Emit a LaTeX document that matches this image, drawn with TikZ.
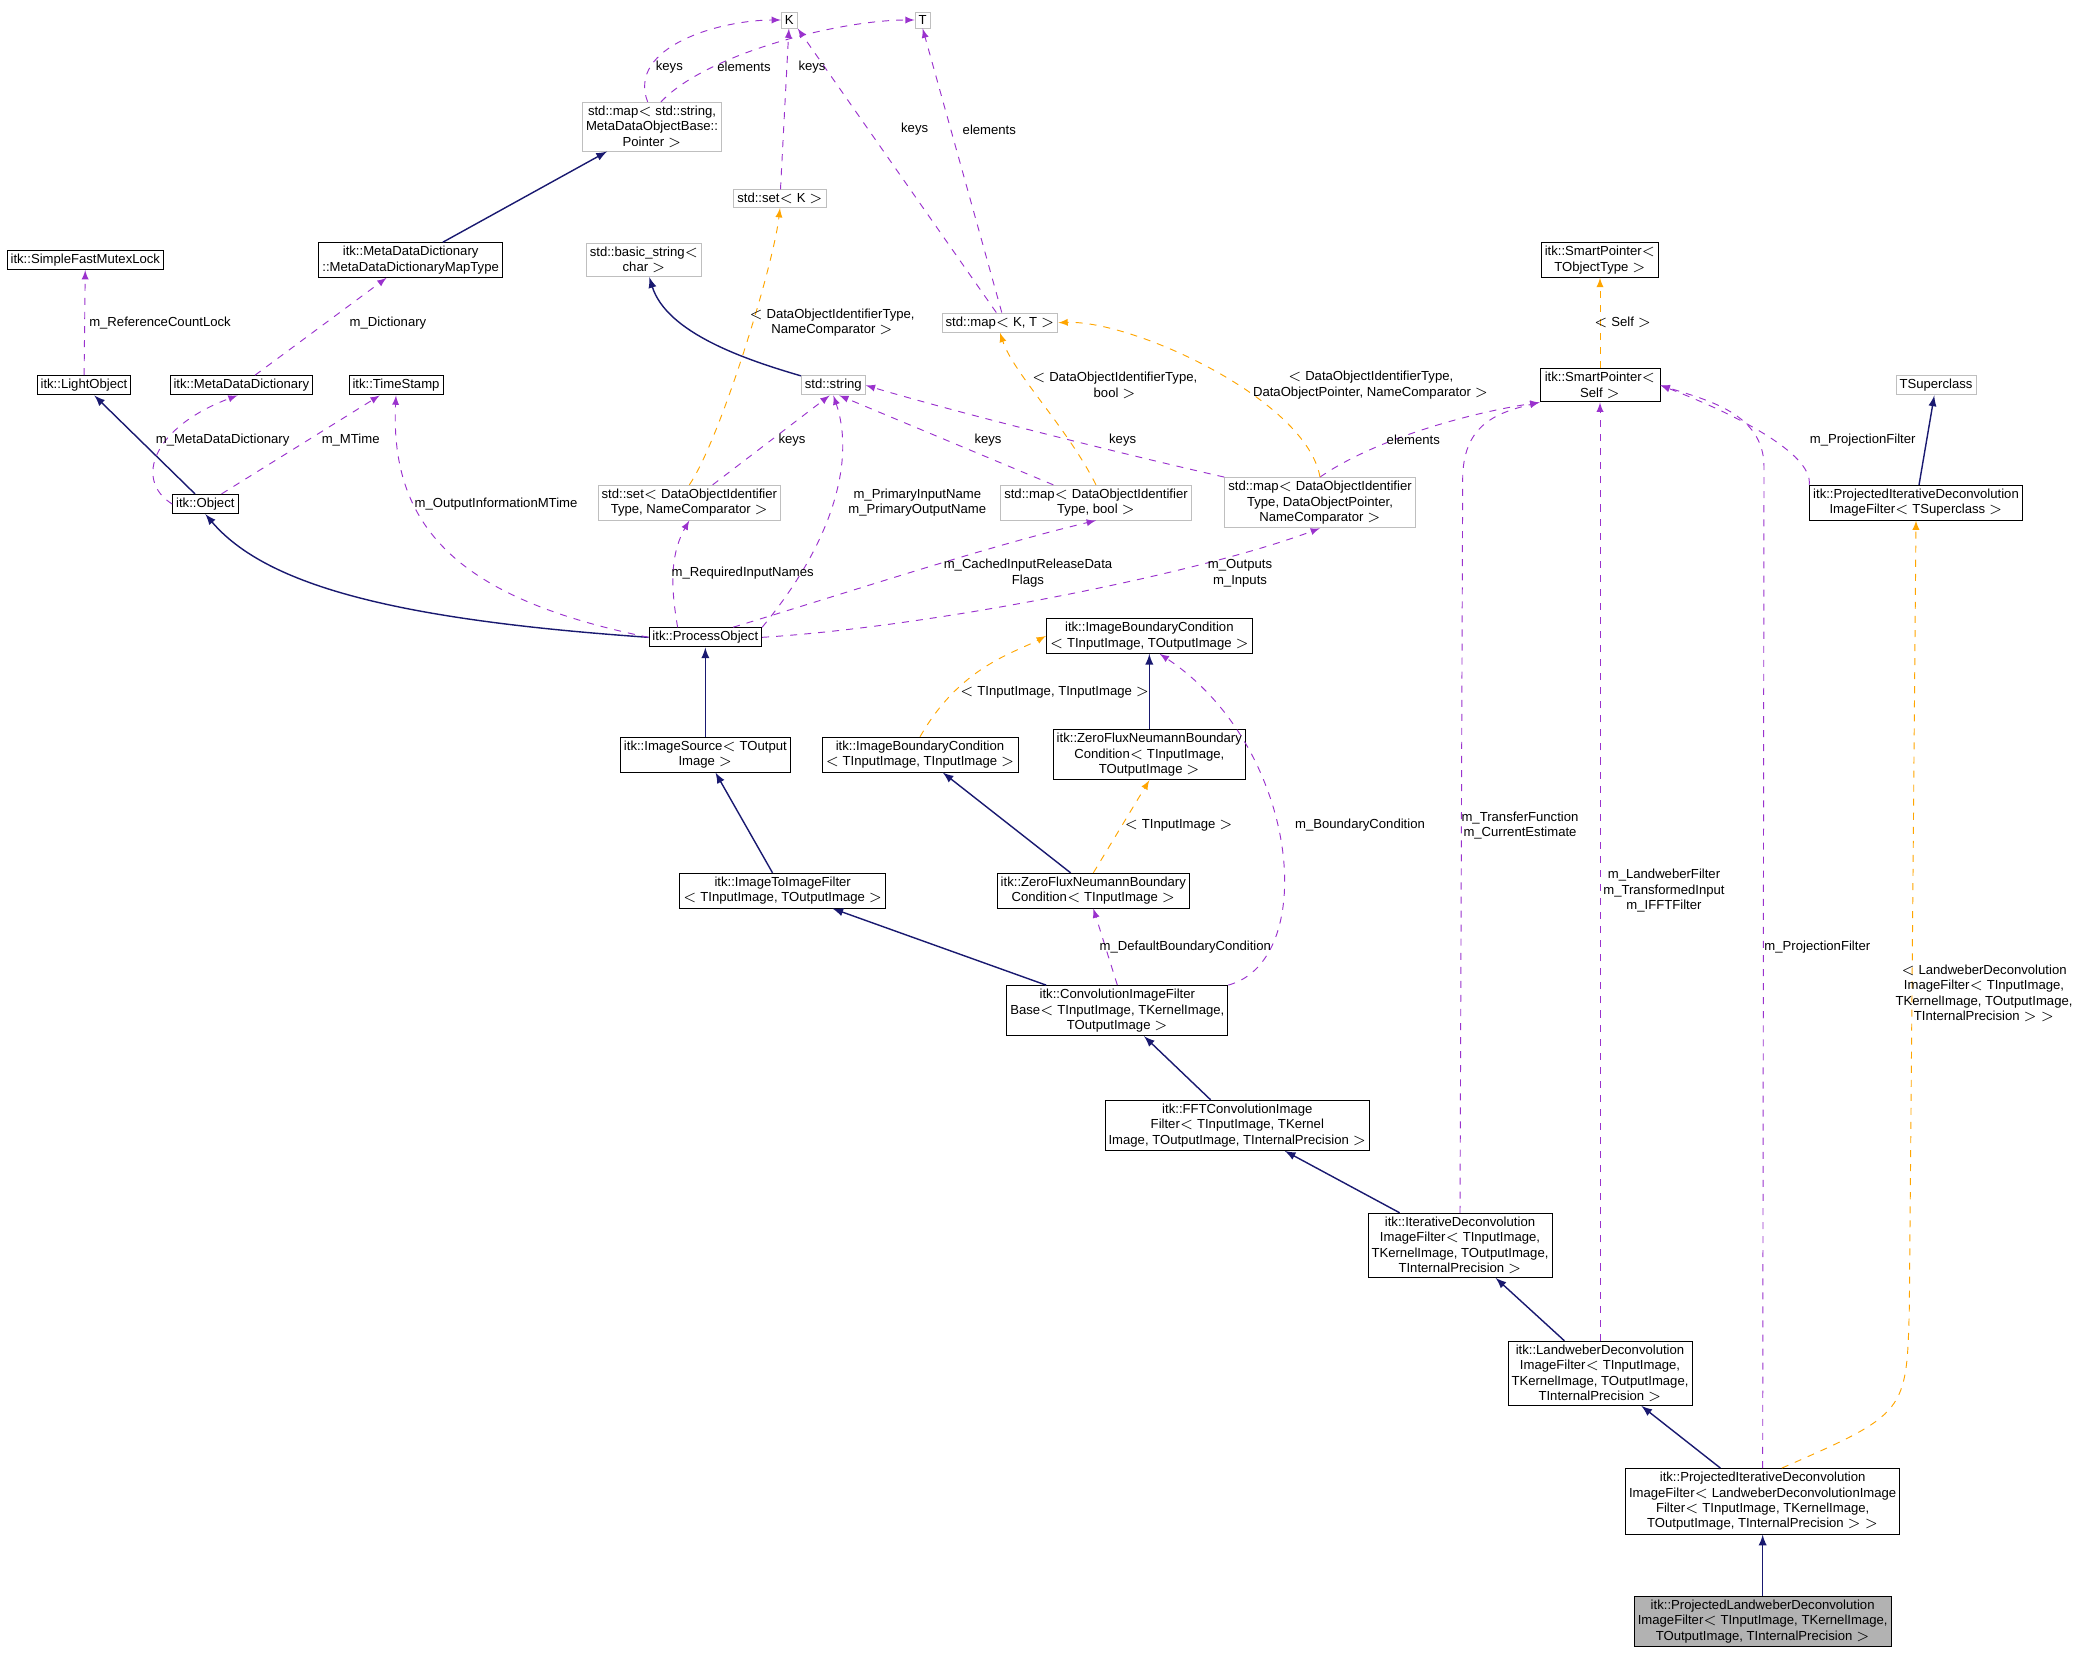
\documentclass[tikz,border=0pt]{standalone}
\usepackage{fontspec}
\setmainfont{Liberation Sans}
\usepackage{tikz}
\usetikzlibrary{arrows,positioning}
\definecolor{inh}{HTML}{191970}
\definecolor{use}{HTML}{9A32CD}
\definecolor{tpl}{HTML}{FFA500}
\definecolor{ext}{HTML}{BFBFBF}
\begin{document}
\begin{tikzpicture}[x=0.02cm,y=-0.02cm,>=latex,
	font=\fontsize{5.6}{6.6}\selectfont,
	cls/.style={draw=black,rectangle,align=center,inner sep=1.5pt,fill=white},
	extcls/.style={cls,draw=ext},
	inherit/.style={->,draw=inh,semithick},
	member/.style={->,draw=use,dashed},
	tmpl/.style={->,draw=tpl,dashed},
	lbl/.style={align=center,inner sep=0pt}]
	\useasboundingbox (0,0) rectangle (1563,1240);
	\node[extcls] (K) at (592,15) {K};
	\node[extcls] (T) at (692,15) {T};
	\node[extcls] (mapstr) at (489,95) {std::map$<$ std::string,\\MetaDataObjectBase::\\Pointer $>$};
	\node[extcls] (setK) at (585,149) {std::set$<$ K $>$};
	\node[cls] (mutex) at (64,195) {itk::SimpleFastMutexLock};
	\node[cls] (mddmap) at (308,195) {itk::MetaDataDictionary\\::MetaDataDictionaryMapType};
	\node[extcls] (bstr) at (483,195) {std::basic\_string$<$\\char $>$};
	\node[extcls] (mapKT) at (750,242) {std::map$<$ K, T $>$};
	\node[cls] (spobj) at (1200,195) {itk::SmartPointer$<$\\TObjectType $>$};
	\node[cls] (light) at (63,289) {itk::LightObject};
	\node[cls] (mdd) at (181,289) {itk::MetaDataDictionary};
	\node[cls] (tstamp) at (297,289) {itk::TimeStamp};
	\node[extcls] (str) at (625,289) {std::string};
	\node[cls,minimum width=1.8cm] (spself) at (1200,289) {itk::SmartPointer$<$\\Self $>$};
	\node[extcls] (tsup) at (1452,289) {TSuperclass};
	\node[cls] (obj) at (154,378) {itk::Object};
	\node[extcls] (setdoi) at (517,377) {std::set$<$ DataObjectIdentifier\\Type, NameComparator $>$};
	\node[extcls] (mapbool) at (822,377) {std::map$<$ DataObjectIdentifier\\Type, bool $>$};
	\node[extcls] (mapptr) at (990,377) {std::map$<$ DataObjectIdentifier\\Type, DataObjectPointer,\\NameComparator $>$};
	\node[cls] (pidts) at (1437,377) {itk::ProjectedIterativeDeconvolution\\ImageFilter$<$ TSuperclass $>$};
	\node[cls] (proc) at (529,478) {itk::ProcessObject};
	\node[cls] (ibc) at (862,477) {itk::ImageBoundaryCondition\\$<$ TInputImage, TOutputImage $>$};
	\node[cls] (isrc) at (529,566) {itk::ImageSource$<$ TOutput\\Image $>$};
	\node[cls] (ibcii) at (690,566) {itk::ImageBoundaryCondition\\$<$ TInputImage, TInputImage $>$};
	\node[cls] (zfn) at (862,566) {itk::ZeroFluxNeumannBoundary\\Condition$<$ TInputImage,\\TOutputImage $>$};
	\node[cls] (itif) at (587,668) {itk::ImageToImageFilter\\$<$ TInputImage, TOutputImage $>$};
	\node[cls] (zfni) at (820,668) {itk::ZeroFluxNeumannBoundary\\Condition$<$ TInputImage $>$};
	\node[cls] (cifb) at (838,758) {itk::ConvolutionImageFilter\\Base$<$ TInputImage, TKernelImage,\\TOutputImage $>$};
	\node[cls] (fft) at (928,844) {itk::FFTConvolutionImage\\Filter$<$ TInputImage, TKernel\\Image, TOutputImage, TInternalPrecision $>$};
	\node[cls] (idif) at (1095,934) {itk::IterativeDeconvolution\\ImageFilter$<$ TInputImage,\\TKernelImage, TOutputImage,\\TInternalPrecision $>$};
	\node[cls] (ldif) at (1200,1030) {itk::LandweberDeconvolution\\ImageFilter$<$ TInputImage,\\TKernelImage, TOutputImage,\\TInternalPrecision $>$};
	\node[cls] (pidif) at (1322,1126) {itk::ProjectedIterativeDeconvolution\\ImageFilter$<$ LandweberDeconvolutionImage\\Filter$<$ TInputImage, TKernelImage,\\TOutputImage, TInternalPrecision $>$ $>$};
	\node[cls,fill=black!30] (pldif) at (1322,1216) {itk::ProjectedLandweberDeconvolution\\ImageFilter$<$ TInputImage, TKernelImage,\\TOutputImage, TInternalPrecision $>$};
	% inheritance
	\draw[inherit] (mddmap) -- (mapstr);
	\draw[inherit] (str) .. controls (560,270) and (500,250) .. (bstr);
	\draw[inherit] (pidts) -- (tsup);
	\draw[inherit] (obj) -- (light);
	\draw[inherit] (proc.west) .. controls (300,465) and (200,440) .. (obj.south);
	\draw[inherit] (isrc) -- (proc);
	\draw[inherit] (zfn) -- (ibc);
	\draw[inherit] (itif) -- (isrc);
	\draw[inherit] (zfni) -- (ibcii);
	\draw[inherit] (cifb) -- (itif);
	\draw[inherit] (fft) -- (cifb);
	\draw[inherit] (idif) -- (fft);
	\draw[inherit] (ldif) -- (idif);
	\draw[inherit] (pidif) -- (ldif);
	\draw[inherit] (pldif) -- (pidif);
	% members
	\draw[member] (mapstr.100) .. controls (470,35) and (540,15) .. (K.west);
	\draw[member] (mapstr.70) .. controls (530,40) and (630,15) .. (T.west);
	\draw[member] (setK) -- (K);
	\draw[member] (mapKT.110) -- (K.south east);
	\draw[member] (mapKT.80) -- (T.south);
	\draw[member] (light) -- (mutex);
	\draw[member] (mdd) -- (mddmap);
	\draw[member] (obj.west) .. controls (100,360) and (115,320) .. (mdd.250);
	\draw[member] (obj) -- (tstamp);
	\draw[member] (setdoi) -- (str.250);
	\draw[member] (mapbool) -- (str.300);
	\draw[member] (mapptr.north west) .. controls (840,340) and (720,310) .. (str.east);
	\draw[member] (mapptr.north) .. controls (1030,330) and (1100,310) .. (spself.south west);
	\draw[member] (pidts.north west) .. controls (1360,340) and (1300,310) .. (spself.east);
	\draw[member] (proc.west) .. controls (350,450) and (292,400) .. (tstamp.south);
	\draw[member] (proc.160) .. controls (505,450) and (500,420) .. (setdoi.south);
	\draw[member] (proc.north east) .. controls (630,400) and (640,340) .. (str.south);
	\draw[member] (proc.20) .. controls (650,440) and (740,410) .. (mapbool.south);
	\draw[member] (proc.east) .. controls (700,470) and (900,430) .. (mapptr.south);
	\draw[member] (cifb.north) -- (zfni.south);
	\draw[member] (cifb.north east) .. controls (990,720) and (975,560) .. (ibc.300);
	\draw[member] (idif.north) -- (1097,360) .. controls (1097,320) and (1120,310) .. (spself.south west);
	\draw[member] (ldif.north) -- (spself.south);
	\draw[member] (pidif.north) -- (1323,350) .. controls (1323,310) and (1280,300) .. (spself.east);
	% templates
	\draw[tmpl] (setdoi.north) .. controls (540,330) and (580,200) .. (setK.south);
	\draw[tmpl] (mapbool.north) .. controls (800,320) and (760,280) .. (mapKT.south);
	\draw[tmpl] (mapptr.north) .. controls (980,300) and (850,240) .. (mapKT.east);
	\draw[tmpl] (spself) -- (spobj);
	\draw[tmpl] (ibcii.north) .. controls (720,500) and (760,490) .. (ibc.west);
	\draw[tmpl] (zfni.north) -- (zfn.south);
	\draw[tmpl] (pidif.60) .. controls (1430,1060) .. (1432,980) -- (pidts.south);
	% labels
	\node[lbl] (l1) at (502,50) {keys};
	\node[lbl] (l2) at (558,50) {elements};
	\node[lbl] (l3) at (609,50) {keys};
	\node[lbl] (l4) at (686,97) {keys};
	\node[lbl] (l5) at (742,97) {elements};
	\node[lbl] (l6) at (120,242) {m\_ReferenceCountLock};
	\node[lbl] (l7) at (291,242) {m\_Dictionary};
	\node[lbl] (l8) at (624,242) {$<$ DataObjectIdentifierType,\\NameComparator $>$};
	\node[lbl] (l9) at (836,289) {$<$ DataObjectIdentifierType,\\bool $>$};
	\node[lbl] (l10) at (1028,289) {$<$ DataObjectIdentifierType,\\DataObjectPointer, NameComparator $>$};
	\node[lbl] (l11) at (1217,242) {$<$ Self $>$};
	\node[lbl] (l12) at (1397,330) {m\_ProjectionFilter};
	\node[lbl] (l13) at (167,330) {m\_MetaDataDictionary};
	\node[lbl] (l14) at (263,330) {m\_MTime};
	\node[lbl] (l15) at (594,330) {keys};
	\node[lbl] (l16) at (741,330) {keys};
	\node[lbl] (l17) at (842,330) {keys};
	\node[lbl] (l18) at (1060,330) {elements};
	\node[lbl] (l19) at (372,378) {m\_OutputInformationMTime};
	\node[lbl] (l20) at (557,430) {m\_RequiredInputNames};
	\node[lbl] (l21) at (688,377) {m\_PrimaryInputName\\m\_PrimaryOutputName};
	\node[lbl] (l22) at (771,430) {m\_CachedInputReleaseData\\Flags};
	\node[lbl] (l23) at (930,430) {m\_Outputs\\m\_Inputs};
	\node[lbl] (l24) at (791,519) {$<$ TInputImage, TInputImage $>$};
	\node[lbl] (l25) at (884,619) {$<$ TInputImage $>$};
	\node[lbl] (l26) at (889,710) {m\_DefaultBoundaryCondition};
	\node[lbl] (l27) at (1020,619) {m\_BoundaryCondition};
	\node[lbl] (l28) at (1140,619) {m\_TransferFunction\\m\_CurrentEstimate};
	\node[lbl] (l29) at (1248,668) {m\_LandweberFilter\\m\_TransformedInput\\m\_IFFTFilter};
	\node[lbl] (l30) at (1363,710) {m\_ProjectionFilter};
	\node[lbl] (l31) at (1488,745) {$<$ LandweberDeconvolution\\ImageFilter$<$ TInputImage,\\TKernelImage, TOutputImage,\\TInternalPrecision $>$ $>$};
\end{tikzpicture}
\end{document}
